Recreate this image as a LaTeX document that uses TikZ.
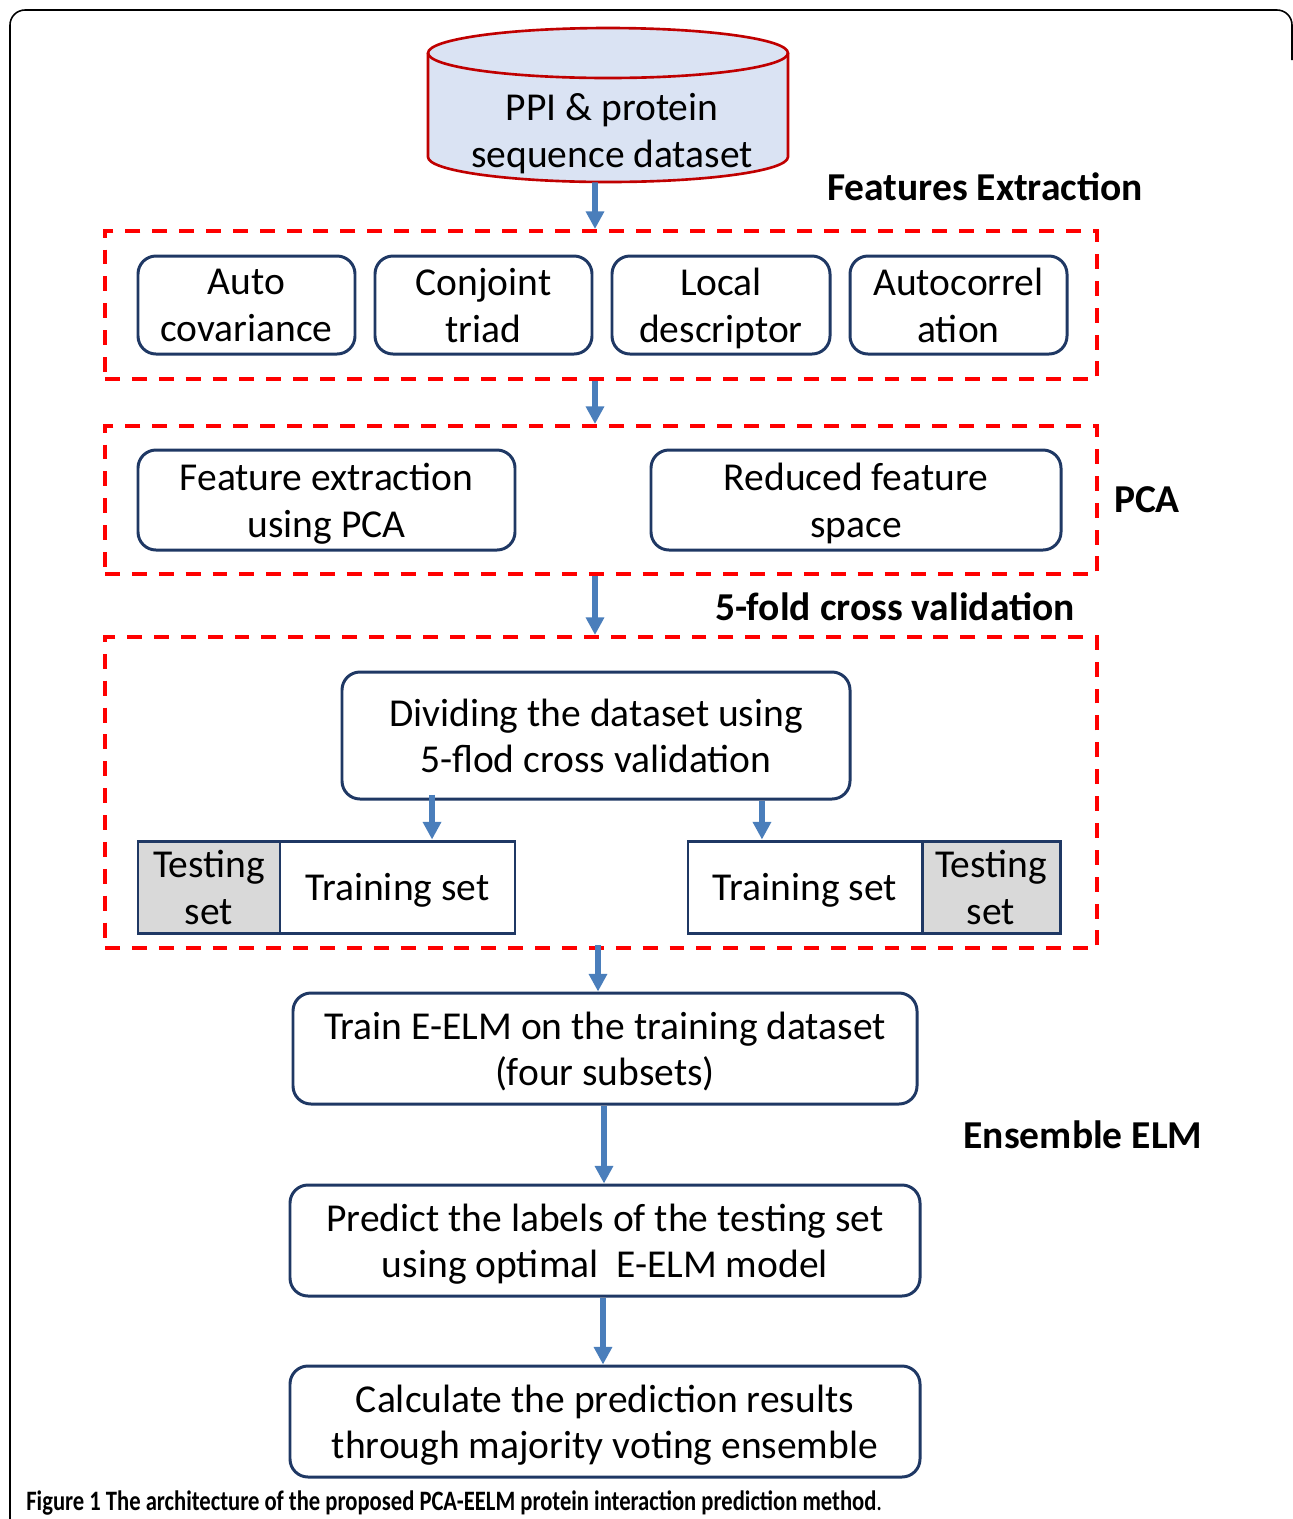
\documentclass[tikz,border=0pt]{standalone}
\usepackage{fontspec}
\setmainfont{Carlito}
\usetikzlibrary{arrows.meta,fit}
\definecolor{navy}{RGB}{31,56,100}
\definecolor{dred}{RGB}{192,0,0}
\definecolor{cylfill}{RGB}{218,227,243}
\definecolor{arrblue}{RGB}{74,126,187}
\definecolor{setgray}{RGB}{217,217,217}
\definecolor{dashred}{RGB}{255,0,0}
\newcommand\lstrut{\rule[-7.4pt]{0pt}{22pt}}
\tikzset{
  txt/.style={font=\fontsize{22.5}{26.6}\selectfont, align=center, text=black},
  tt/.style={txt, yshift=-3.8pt},
  lbl/.style={font=\fontsize{22.5}{26.6}\selectfont\bfseries, text=black, inner sep=0pt},
  rbox/.style={draw=navy, line width=1.7pt, rounded corners=0.36cm, inner sep=0pt},
  sbox/.style={draw=navy, line width=1.7pt, inner sep=0pt},
  dbox/.style={draw=dashred, line width=2.3pt, dash pattern=on 8.5pt off 6.8pt, inner sep=0pt},
  arr/.style={draw=arrblue, line width=3.2pt, -{Triangle[width=10pt,length=10pt]}},
  framestyle/.style={draw=black, line width=0.9pt, rounded corners=0.3cm}
}
\begin{document}
\begin{tikzpicture}[x=0.02cm, y=-0.02cm]
\useasboundingbox (0,0) rectangle (1293,1519);
\begin{scope}
\clip (0,0) rectangle (1293,1519);
\draw[framestyle] (10,1540) -- (10,10) -- (1292,10) -- (1292,60);
\end{scope}

% cylinder
\fill[cylfill] (428,53) -- (428,157) arc[start angle=180, end angle=360, x radius=3.6cm, y radius=0.5cm] -- (788,53) arc[start angle=0, end angle=180, x radius=3.6cm, y radius=0.5cm] -- cycle;
\draw[dred, line width=1.5pt] (428,53) -- (428,157) arc[start angle=180, end angle=360, x radius=3.6cm, y radius=0.5cm] -- (788,53);
\draw[dred, line width=1.5pt] (608,53) ellipse [x radius=3.6cm, y radius=0.5cm];
\node[fit={(428,28) (788,182)}, inner sep=0pt] (cyl) {};
\node[tt] (ppi) at (612,130) {\lstrut PPI \& protein\\sequence dataset\lstrut};

% labels
\node[lbl] (lfe) at (985,187) {Features Extraction};
\node[lbl] (lpca) at (1147,500) {PCA};
\node[lbl] (lcv) at (895,607) {5-fold cross validation};
\node[lbl] (lens) at (1083,1135) {Ensemble ELM};

% dashed groups
\node[dbox, fit={(105,231) (1097,379)}] (fe) {};
\node[dbox, fit={(105,426) (1097,574)}] (pca) {};
\node[dbox, fit={(105,637) (1097,948)}] (cv) {};

% feature boxes
\node[rbox, fit={(138,256) (355,354)}] (ac) {};
\node[tt] at (ac.center) {\lstrut Auto\\covariance\lstrut};
\node[rbox, fit={(375,256) (592,354)}] (ct) {};
\node[tt] at (ct.center) {\lstrut Conjoint\\triad\lstrut};
\node[rbox, fit={(612,256) (830,354)}] (ld) {};
\node[tt] at (ld.center) {\lstrut Local\\descriptor\lstrut};
\node[rbox, fit={(850,256) (1067,354)}] (acr) {};
\node[tt] at (acr.center) {\lstrut Autocorrel\\ation\lstrut};

% PCA boxes
\node[rbox, fit={(138,450) (515,550)}] (fep) {};
\node[tt] at (fep.center) {\lstrut Feature extraction\\using PCA\lstrut};
\node[rbox, fit={(651,450) (1061,550)}] (rfs) {};
\node[tt] at (rfs.center) {\lstrut Reduced feature\\space\lstrut};

% CV
\node[rbox, fit={(342,672) (850,799)}] (div) {};
\node[tt] at (div.center) {\lstrut Dividing the dataset using\\5-flod cross validation\lstrut};

\node[sbox, fill=setgray, fit={(138,841) (280,933)}] (tsL) {};
\node[tt] at (tsL.center) {\lstrut Testing\\set\lstrut};
\node[sbox, fit={(280,841) (515,933)}] (trL) {};
\node[tt] at (trL.center) {\lstrut Training set};
\node[sbox, fit={(688,841) (922,933)}] (trR) {};
\node[tt] at (trR.center) {\lstrut Training set};
\node[sbox, fill=setgray, fit={(922,841) (1060,933)}] (tsR) {};
\node[tt] at (tsR.center) {\lstrut Testing\\set\lstrut};

% ELM
\node[rbox, fit={(293,993) (917,1104)}] (train) {};
\node[tt] at (train.center) {\lstrut Train E-ELM on the training dataset\\(four subsets)\lstrut};
\node[rbox, fit={(290,1185) (920,1296)}] (pred) {};
\node[tt] at (pred.center) {\lstrut Predict the labels of the testing set\\using optimal\ \ E-ELM model\lstrut};
\node[rbox, fit={(290,1366) (920,1477)}] (calc) {};
\node[tt] at (calc.center) {\lstrut Calculate the prediction results\\through majority voting ensemble\lstrut};

% arrows
\draw[arr] ([xshift=-0.26cm]cyl.south) -- ([xshift=-0.12cm]fe.north);
\draw[arr] ([xshift=-0.12cm]fe.south) -- ([xshift=-0.12cm]pca.north);
\draw[arr] ([xshift=-0.12cm]pca.south) -- ([xshift=-0.12cm]cv.north);
\draw[arr] ([xshift=-3.28cm,yshift=0.12cm]div.south) -- ([xshift=-3.28cm]div.south |- trL.north);
\draw[arr] ([xshift=3.32cm]div.south) -- ([xshift=3.32cm]div.south |- trR.north);
\draw[arr] ([xshift=-0.06cm,yshift=0.1cm]cv.south) -- ([xshift=-0.06cm]cv.south |- train.north);
\draw[arr] ([xshift=-0.02cm]train.south) -- ([xshift=-0.02cm]pred.north);
\draw[arr] ([xshift=-0.04cm]pred.south) -- ([xshift=-0.04cm]calc.north);

% caption
\node[anchor=west, inner sep=0pt] (cap) at (26,1503) {\resizebox{17.12cm}{\height}{\fontsize{16}{16}\selectfont\textbf{Figure 1 The architecture of the proposed PCA-EELM protein interaction prediction method}.}};
\end{tikzpicture}
\end{document}
